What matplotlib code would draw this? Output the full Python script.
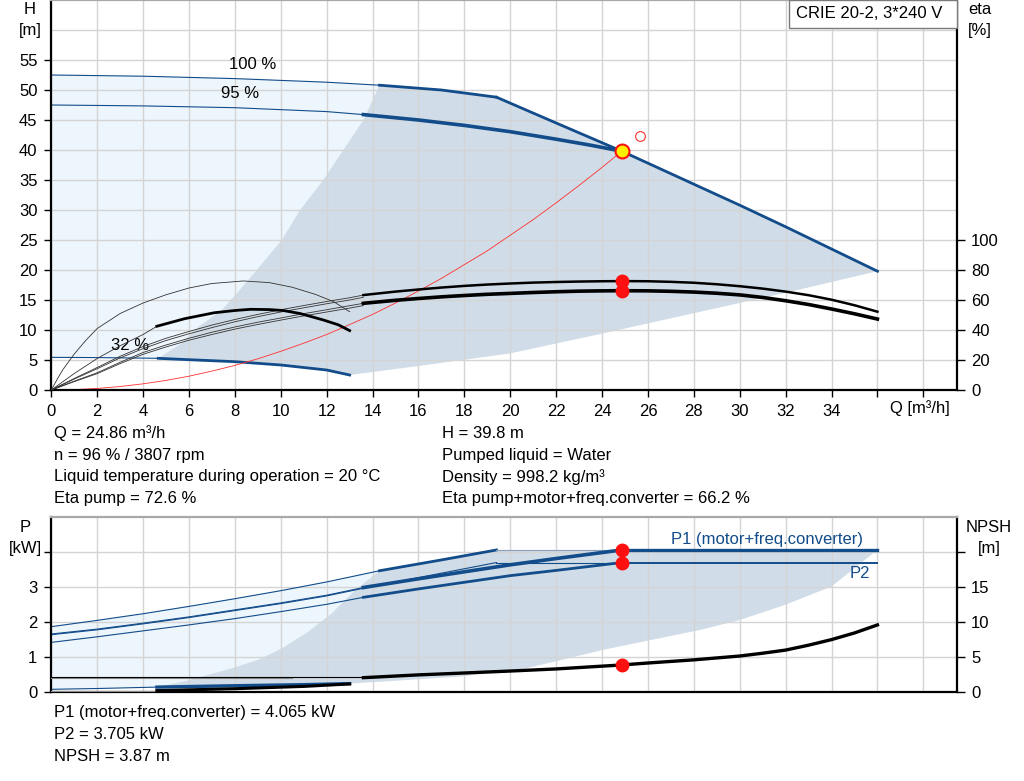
import numpy as np
import matplotlib.pyplot as plt
from matplotlib.patches import Rectangle

plt.rcParams['font.family'] = ['Liberation Sans', 'DejaVu Sans']
plt.rcParams['font.size'] = 12

BLUE = '#124c8a'
DARK_FILL = '#d0dce7'
LIGHT_FILL = '#eef6fd'
GRID = '#d4d4d4'

# ---- QH chart data ----
q100_thin = [0, 4, 8, 12, 14.3]
h100_thin = [52.5, 52.3, 51.9, 51.3, 50.8]
q100_thick = [14.3, 17, 19.4]
h100_thick = [50.8, 50.0, 48.8]
q_limit = [19.4, 22, 24.86, 28, 30, 32, 34, 36]
h_limit = [48.8, 44.5, 39.8, 34.3, 30.8, 27.2, 23.5, 19.8]

q95_thin = [0, 4, 8, 12, 13.6]
h95_thin = [47.5, 47.35, 47.05, 46.4, 45.9]
q95_thick = [13.6, 16, 18, 20, 22, 23.5, 24.86]
h95_thick = [45.9, 45.0, 44.1, 43.05, 41.8, 40.8, 39.8]

qmin_thin = [0, 2, 4.66]
hmin_thin = [5.44, 5.4, 5.28]
qmin_thick = [4.66, 6, 8, 10, 12, 13]
hmin_thick = [5.28, 5.05, 4.72, 4.17, 3.33, 2.5]

# limits of the shaded operating area
q_edge = [4.66, 5.68, 6.41, 7.42, 8.08, 8.95, 10.04, 10.84, 11.85, 12.72, 13.6, 14.3]
h_edge = [5.28, 7.8, 10.55, 13.3, 16.1, 20.0, 25.0, 30.0, 35.0, 40.0, 45.0, 50.8]
q_floor = [13, 16, 20, 24, 28, 32, 36]
h_floor = [2.5, 4.0, 6.1, 9.4, 12.8, 16.2, 19.8]

# system curve
q_sys = [0, 1, 2, 3, 4, 5, 6, 7, 8, 9, 10, 11, 12, 13, 14, 15, 16, 17, 18,
         19, 20, 21, 22, 23, 24, 24.86]
h_sys = [0, 0.06, 0.26, 0.58, 1.03, 1.6, 2.3, 3.15, 4.1, 5.2, 6.45, 7.8,
         9.25, 10.9, 12.6, 14.5, 16.5, 18.6, 20.9, 23.2, 25.8, 28.4, 31.2,
         34.1, 37.1, 39.8]

# efficiency curves [%]
q_eta = [0, 1, 2, 3, 4, 5, 6, 7, 8, 9, 10, 11, 12, 13, 13.6]
eta_pump_95 = [0, 7.7, 15, 22.5, 29, 34.5, 39, 43.3, 47, 50.4, 53.5, 56.3, 59, 61.5, 63.3]
eta_pump_100 = [0, 7.3, 14.2, 21.4, 27.6, 33.0, 37.5, 41.6, 45.5, 48.9, 52.0, 54.8, 57.5, 60.0, 61.8]
eta_tot_95 = [0, 5.9, 11.5, 18.5, 25, 30, 34.5, 38.5, 42, 45.2, 48, 50.9, 53.5, 56.2, 57.8]
eta_tot_100 = [0, 5.6, 10.9, 17.6, 23.8, 28.7, 33.2, 37.0, 40.6, 43.7, 46.6, 49.4, 52.0, 54.6, 56.3]
q_eta_thick = [13.6, 15, 16, 17, 18, 19, 20, 21, 22, 23, 24, 24.86, 26, 27, 28,
               29, 30, 31, 32, 33, 34, 35, 36]
eta_pump_thick = [63.3, 65.6, 67.0, 68.3, 69.4, 70.3, 71.0, 71.6, 72.0, 72.3,
                  72.5, 72.6, 72.5, 72.1, 71.5, 70.5, 69.2, 67.6, 65.6, 63.2,
                  60.2, 56.5, 52.2]
eta_tot_thick = [57.8, 59.8, 61.0, 62.1, 63.0, 63.8, 64.4, 65.0, 65.5, 65.9,
                 66.1, 66.2, 66.1, 65.8, 65.3, 64.5, 63.4, 61.7, 59.5, 57.0,
                 54.0, 50.8, 47.3]

q_eta32_arc = [0, 0.25, 0.5, 1, 1.5, 2, 3, 4, 5, 6, 7, 8.37, 9.5, 10.5, 11.5, 12.3, 13]
eta32_arc = [0, 7, 13.5, 24, 33, 41, 51, 58, 63.5, 68, 71, 72.7, 71.6, 68.5, 63.8, 58.9, 52.2]
q_eta32_thin = [0, 1, 2, 3, 4, 4.6]
eta32_thin = [0, 11, 21, 29.5, 37, 42.5]
q_eta32_thick = [4.6, 5.8, 7.1, 8.0, 8.7, 9.5, 10.1, 10.84, 11.85, 12.5, 13]
eta32_thick = [42.5, 47.5, 51.5, 53.0, 53.8, 53.6, 53.0, 51.0, 46.7, 43.5, 39.6]

# duty point
q_duty = 24.86
h_duty = 39.8
eta_pump_duty = 72.6
eta_tot_duty = 66.2
q_req, h_req = 25.65, 42.4

# ---- power / NPSH chart data ----
qp1_100_thin = [0, 2, 4, 6, 8, 10, 12, 14.3]
p1_100_thin = [1.87, 2.05, 2.24, 2.45, 2.67, 2.9, 3.15, 3.47]
qp1_100_thick = [14.3, 17, 19.4]
p1_100_thick = [3.47, 3.78, 4.065]
qp1_95_thin = [0, 2, 4, 6, 8, 10, 12, 13.6]
p1_95_thin = [1.66, 1.80, 1.97, 2.15, 2.35, 2.55, 2.77, 2.99]
qp1_95_thick = [13.6, 16, 20, 22, 24.86]
p1_95_thick = [2.99, 3.24, 3.64, 3.82, 4.065]
qp2_100 = [0, 2, 4, 6, 8, 10, 12, 13.6, 19.4]
p2_100 = [1.64, 1.78, 1.95, 2.13, 2.33, 2.53, 2.75, 2.97, 3.705]
qp2_95_thin = [0, 2, 4, 6, 8, 10, 12, 13.6]
p2_95_thin = [1.42, 1.58, 1.75, 1.92, 2.1, 2.3, 2.51, 2.71]
qp2_95_thick = [13.6, 16, 20, 22, 24.86]
p2_95_thick = [2.71, 2.95, 3.33, 3.48, 3.705]
p1_max = 4.065
p2_max = 3.705

qp_min_thin = [0, 2, 4.6]
p_min_thin = [0.077, 0.10, 0.14]
qp_min_thick = [4.6, 8, 11, 13]
p_min_thick = [0.14, 0.18, 0.21, 0.24]

qp_edge = [4.6, 6.0, 7.87, 9.0, 10.05, 11.2, 12.22, 13.24, 14.3]
p_edge = [0.14, 0.34, 0.68, 0.92, 1.25, 1.73, 2.25, 2.92, 3.47]
qp_floor = [13, 17.8, 20.7, 22, 24, 26, 28.3, 30, 32, 34, 36]
p_floor = [0.24, 0.44, 0.68, 0.88, 1.2, 1.47, 1.78, 2.06, 2.5, 3.02, 4.065]

q_npsh_flat = [0, 13.6]
npsh_flat = [2.2, 2.2]
q_npsh_flat2 = [0, 10.5]
npsh_flat2 = [1.96, 1.96]
q_npsh = [13.6, 16, 18, 20, 22, 24.86, 26, 28, 30, 31, 32, 33, 34, 35, 36]
npsh = [2.05, 2.45, 2.72, 3.0, 3.3, 3.87, 4.15, 4.6, 5.15, 5.55, 6.0, 6.7, 7.5, 8.45, 9.6]
q_npsh_min_thin = [0, 4.6]
npsh_min_thin = [0.2, 0.2]
q_npsh_min = [4.6, 8, 11, 13]
npsh_min = [0.2, 0.47, 0.8, 1.15]
npsh_duty = 3.87

info_left = ['Q = 24.86 m³/h', 'n = 96 % / 3807 rpm',
             'Liquid temperature during operation = 20 °C', 'Eta pump = 72.6 %']
info_right = ['H = 39.8 m', 'Pumped liquid = Water',
              'Density = 998.2 kg/m³', 'Eta pump+motor+freq.converter = 66.2 %']
info_power = ['P1 (motor+freq.converter) = 4.065 kW', 'P2 = 3.705 kW',
              'NPSH = 3.87 m']

W, H = 1024, 781
fig = plt.figure(figsize=(W / 100, H / 100), dpi=100)


def fx(px):
    return px / W


def fy(py):
    return 1 - py / H


XMAX = 39.48


def style_axes(ax):
    for side in ['left', 'bottom', 'right']:
        ax.spines[side].set_color('black')
        ax.spines[side].set_linewidth(1.6)
    ax.spines['top'].set_color('#a8a8a8')
    ax.spines['top'].set_linewidth(1.6)
    ax.set_axisbelow('line')


# ================= QH chart =================
ax = fig.add_axes([fx(51.3), fy(390), fx(957.3 - 51.3), 390 / H])
ax.set_xlim(0, XMAX)
ax.set_ylim(0, 65)
style_axes(ax)
ax.set_xticks(np.arange(0, 35, 2))
ax.set_xticks([36, 38], minor=True)
ax.set_yticks(np.arange(0, 56, 5))
ax.set_yticks([60], minor=True)
ax.grid(True, which='both', color=GRID, lw=1)
ax.tick_params(axis='x', which='both', direction='out', length=5, width=1, pad=5)
ax.tick_params(axis='y', which='major', direction='out', length=5, width=1, pad=5)
ax.tick_params(axis='y', which='minor', length=0)

light_q = q100_thin + q_edge[::-1] + qmin_thin[::-1]
light_h = h100_thin + h_edge[::-1] + hmin_thin[::-1]
ax.fill(light_q, light_h, color=LIGHT_FILL, lw=0, zorder=0.8)
dark_q = q_edge + q100_thick + q_limit + q_floor[::-1] + qmin_thick[::-1]
dark_h = h_edge + h100_thick + h_limit + h_floor[::-1] + hmin_thick[::-1]
ax.fill(dark_q, dark_h, color=DARK_FILL, lw=0, zorder=1)

ax.plot(q100_thin, h100_thin, color=BLUE, lw=0.8)
ax.plot(q100_thick, h100_thick, color=BLUE, lw=2.0)
ax.plot(q_limit, h_limit, color=BLUE, lw=2.0)
ax.plot(q95_thin, h95_thin, color=BLUE, lw=0.8)
ax.plot(q95_thick, h95_thick, color=BLUE, lw=2.6)
ax.plot(qmin_thin, hmin_thin, color=BLUE, lw=0.8)
ax.plot(qmin_thick, hmin_thick, color=BLUE, lw=2.0)
ax.plot(q_sys, h_sys, color='#ff3030', lw=0.6)

ax.plot(q_req, h_req, 'o', ms=7, mfc='none', mec='#ff3030', mew=0.8, zorder=5)
ax.plot(q_duty, h_duty, 'o', ms=10, mfc='#ffee00', mec='#ff1010', mew=1.5, zorder=6)

ax.text(8.79, 54.3, '100 %', ha='center', va='center')
ax.text(8.22, 49.5, '95 %', ha='center', va='center')
ax.text(3.43, 7.5, '32 %', ha='center', va='center')

axe = ax.twinx()
axe.set_ylim(0, 260)
axe.set_xlim(0, XMAX)
axe.set_yticks(np.arange(0, 101, 20))
axe.tick_params(axis='y', direction='out', length=6, width=1, pad=4)
for side in axe.spines:
    axe.spines[side].set_visible(False)

axe.plot(q_eta, eta_pump_95, color='#333333', lw=0.6)
axe.plot(q_eta, eta_pump_100, color='#333333', lw=0.6)
axe.plot(q_eta, eta_tot_95, color='#333333', lw=0.6)
axe.plot(q_eta, eta_tot_100, color='#333333', lw=0.6)
axe.plot(q_eta_thick, eta_pump_thick, color='black', lw=1.8)
axe.plot(q_eta_thick, eta_tot_thick, color='black', lw=2.6)
axe.plot(q_eta32_arc, eta32_arc, color='#333333', lw=0.6)
axe.plot(q_eta32_thin, eta32_thin, color='#333333', lw=0.6)
axe.plot(q_eta32_thick, eta32_thick, color='black', lw=2.0)
axe.plot([q_duty, q_duty], [eta_pump_duty, eta_tot_duty], 'o', color='#ff1010',
         ms=9, zorder=6)

fig.text(fx(30), fy(9), 'H', ha='center', va='center')
fig.text(fx(30), fy(30), '[m]', ha='center', va='center')
fig.text(fx(980), fy(9), 'eta', ha='center', va='center')
fig.text(fx(980), fy(30), '[%]', ha='center', va='center')
fig.text(fx(920), fy(408), 'Q [m³/h]', ha='center', va='center')

fig.patches.append(Rectangle((fx(789), fy(28)), fx(957 - 789), 28 / H,
                             transform=fig.transFigure, facecolor='white',
                             edgecolor='#7a7a7a', lw=1, zorder=10))
fig.text(fx(796), fy(14), 'CRIE 20-2, 3*240 V', ha='left', va='center', zorder=11)

for i, (tl, tr) in enumerate(zip(info_left, info_right)):
    yy = 433.5 + i * 21.7
    fig.text(fx(54.5), fy(yy), tl, ha='left', va='center')
    fig.text(fx(442), fy(yy), tr, ha='left', va='center')

# ================= Power / NPSH chart =================
bx = fig.add_axes([fx(51.3), fy(692), fx(957.3 - 51.3), (692 - 517.3) / H])
bx.set_xlim(0, XMAX)
bx.set_ylim(0, 5.0)
style_axes(bx)
bx.set_xticks(np.arange(0, 39, 2))
bx.set_xticklabels([])
bx.set_yticks([0, 1, 2, 3, 4])
bx.set_yticklabels(['0', '1', '2', '3', ''])
bx.grid(True, color=GRID, lw=1)
bx.tick_params(axis='x', length=0)
bx.tick_params(axis='y', direction='out', length=5, width=1, pad=5)

light_q = qp1_100_thin + qp_edge[::-1] + qp_min_thin[::-1]
light_p = p1_100_thin + p_edge[::-1] + p_min_thin[::-1]
bx.fill(light_q, light_p, color=LIGHT_FILL, lw=0, zorder=0.8)
dark_q = qp_edge + qp1_100_thick + [36] + qp_floor[::-1] + qp_min_thick[::-1]
dark_p = p_edge + p1_100_thick + [p1_max] + p_floor[::-1] + p_min_thick[::-1]
bx.fill(dark_q, dark_p, color=DARK_FILL, lw=0, zorder=1)

bx.plot(qp1_100_thin, p1_100_thin, color=BLUE, lw=0.8)
bx.plot(qp1_100_thick, p1_100_thick, color=BLUE, lw=2.0)
bx.plot([19.4, q_duty], [p1_max, p1_max], color='#8aa0b8', lw=0.8)
bx.plot([q_duty, 36], [p1_max, p1_max], color=BLUE, lw=2.4)
bx.plot(qp1_95_thin, p1_95_thin, color=BLUE, lw=0.8)
bx.plot(qp1_95_thick, p1_95_thick, color=BLUE, lw=2.6)
bx.plot(qp2_100, p2_100, color=BLUE, lw=0.8)
bx.plot([19.4, q_duty], [p2_max, p2_max], color=BLUE, lw=0.8)
bx.plot([q_duty, 36], [p2_max, p2_max], color=BLUE, lw=1.4)
bx.plot(qp2_95_thin, p2_95_thin, color=BLUE, lw=0.8)
bx.plot(qp2_95_thick, p2_95_thick, color=BLUE, lw=2.0)
bx.plot(qp_min_thin, p_min_thin, color=BLUE, lw=0.8)
bx.plot(qp_min_thick, p_min_thick, color=BLUE, lw=2.4)
bx.plot([q_duty, q_duty], [p1_max, p2_max], 'o', color='#ff1010', ms=9, zorder=6)

bx.text(31.17, 4.36, 'P1 (motor+freq.converter)', color=BLUE, ha='center', va='center')
bx.text(35.24, 3.38, 'P2', color=BLUE, ha='center', va='center')

bn = bx.twinx()
bn.set_ylim(0, 25.0)
bn.set_xlim(0, XMAX)
bn.set_yticks([0, 5, 10, 15, 20])
bn.set_yticklabels(['0', '5', '10', '15', ''])
bn.tick_params(axis='y', direction='out', length=6, width=1, pad=4)
for side in bn.spines:
    bn.spines[side].set_visible(False)

bn.plot(q_npsh_flat2, npsh_flat2, color='#8c8c8c', lw=0.8)
bn.plot(q_npsh_flat, npsh_flat, color='black', lw=0.8)
bn.plot(q_npsh, npsh, color='black', lw=2.4)
bn.plot(q_npsh_min_thin, npsh_min_thin, color='#8c8c8c', lw=0.8)
bn.plot(q_npsh_min, npsh_min, color='black', lw=2.2)
bn.plot(q_duty, npsh_duty, 'o', color='#ff1010', ms=9, zorder=6)

fig.text(fx(25), fy(527.5), 'P', ha='center', va='center')
fig.text(fx(25), fy(548), '[kW]', ha='center', va='center')
fig.text(fx(989), fy(527.5), 'NPSH', ha='center', va='center')
fig.text(fx(989), fy(548), '[m]', ha='center', va='center')

for i, t in enumerate(info_power):
    fig.text(fx(54.5), fy(713 + i * 21.7), t, ha='left', va='center')

fig.savefig('out.png', dpi=100)
